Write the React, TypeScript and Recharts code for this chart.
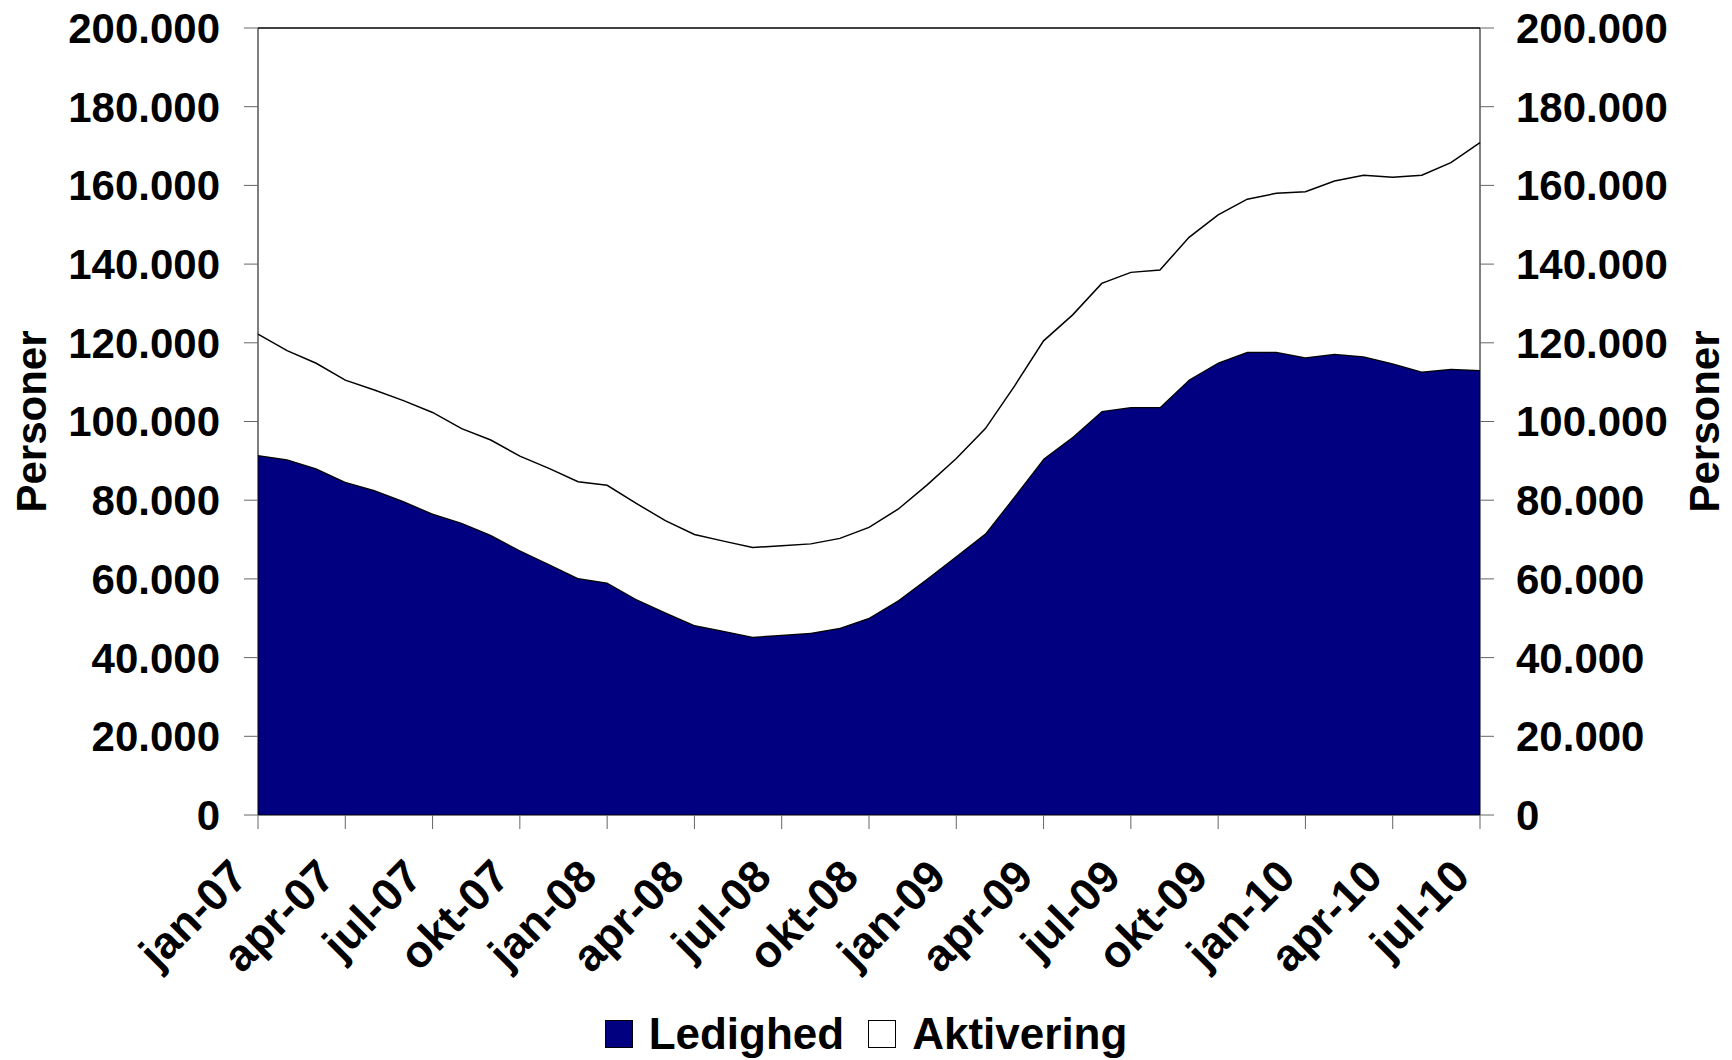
import {
  AreaChart,
  Area,
  Line,
  XAxis,
  YAxis,
  Legend,
  ReferenceLine
} from "recharts";

// months jan-07 .. jul-10
const months = [
  "jan-07", "feb-07", "mar-07", "apr-07", "maj-07", "jun-07", "jul-07", "aug-07", "sep-07", "okt-07", "nov-07", "dec-07",
  "jan-08", "feb-08", "mar-08", "apr-08", "maj-08", "jun-08", "jul-08", "aug-08", "sep-08", "okt-08", "nov-08", "dec-08",
  "jan-09", "feb-09", "mar-09", "apr-09", "maj-09", "jun-09", "jul-09", "aug-09", "sep-09", "okt-09", "nov-09", "dec-09",
  "jan-10", "feb-10", "mar-10", "apr-10", "maj-10", "jun-10", "jul-10"
];

const ledighed = [
  91500, 90400, 88100, 84700, 82600, 79800, 76600, 74300, 71200, 67300, 63800, 60200,
  59100, 54900, 51500, 48300, 46800, 45300, 45800, 46300, 47600, 50100, 54600, 60100,
  65800, 71600, 81000, 90600, 96100, 102700, 103700, 103700, 110700, 115000, 117700, 117700,
  116300, 117200, 116600, 114800, 112700, 113400, 113100
];

const aktivering = [
  30700, 27600, 26700, 25800, 25400, 25500, 25700, 23900, 24100, 23900, 24300, 24500,
  24700, 24300, 23300, 23000, 22800, 22700, 22600, 22600, 22700, 23000, 23100, 23800,
  24800, 26600, 28000, 29900, 31000, 32400, 34200, 34800, 36100, 37500, 38800, 40300,
  42100, 43900, 46000, 47300, 49900, 52400, 57800
];

const yTicks = [0, 20000, 40000, 60000, 80000, 100000, 120000, 140000, 160000, 180000, 200000];

const data = months.map((m, i) => ({
  month: m,
  Ledighed: ledighed[i],
  Aktivering: aktivering[i]
}));

const FONT = "'Liberation Sans', Arial, sans-serif";

const fmt = (v: number) => String(v).replace(/\B(?=(\d{3})+(?!\d))/g, ".");

function MonthTick({ x, y, payload }: any) {
  return (
    <g transform={`translate(${x - 8},${y + 48})`}>
      <text
        textAnchor="end"
        transform="rotate(-45)"
        fontSize={45}
        fontWeight="bold"
        fontFamily={FONT}
        fill="#000"
      >
        {payload.value}
      </text>
    </g>
  );
}

const axisTitle = (side: "left" | "right") => (props: any) => {
  const vb = props.viewBox;
  const cx = side === "left" ? vb.x + 31 : vb.x + vb.width - 28;
  const cy = vb.y + vb.height / 2;
  return (
    <text
      x={cx}
      y={cy}
      transform={`rotate(-90 ${cx} ${cy})`}
      textAnchor="middle"
      dominantBaseline="central"
      fontSize={42}
      fontWeight="bold"
      fontFamily={FONT}
      fill="#000"
    >
      Personer
    </text>
  );
};

function LegendBox() {
  const item = (color: string, label: string, last?: boolean) => (
    <div style={{ display: "flex", alignItems: "center", marginRight: last ? 0 : 24 }}>
      <div
        style={{
          width: 26,
          height: 26,
          background: color,
          border: "1.5px solid #000",
          marginRight: 16
        }}
      />
      <span>{label}</span>
    </div>
  );
  return (
    <div
      style={{
        display: "flex",
        justifyContent: "center",
        alignItems: "flex-end",
        boxSizing: "border-box",
        height: 52,
        paddingBottom: 4,
        lineHeight: "44px",
        fontFamily: FONT,
        fontWeight: "bold",
        fontSize: 44
      }}
    >
      {item("#000080", "Ledighed")}
      {item("#ffffff", "Aktivering", true)}
    </div>
  );
}

export default function App() {
  const tickStyle = {
    fontSize: 42,
    fontWeight: "bold" as const,
    fontFamily: FONT,
    fill: "#000"
  };

  return (
    <div style={{ position: "absolute", left: 0, top: 0, width: 1732, height: 1060, background: "#fff" }}>
      <AreaChart
        width={1732}
        height={1060}
        data={data}
        margin={{ top: 28, right: 0, bottom: 0, left: 0 }}
      >
        <XAxis
          dataKey="month"
          interval={2}
          height={193}
          tickSize={14}
          tickMargin={2}
          stroke="#000"
          tickLine={{ stroke: "#666" }}
          tick={<MonthTick />}
        />
        <YAxis
          yAxisId="left"
          domain={[0, 200000]}
          ticks={yTicks}
          width={258}
          tickSize={14}
          tickMargin={24}
          stroke="#000"
          tickLine={{ stroke: "#666" }}
          tick={tickStyle}
          tickFormatter={fmt}
          label={{ content: axisTitle("left") }}
        />
        <YAxis
          yAxisId="right"
          orientation="right"
          domain={[0, 200000]}
          ticks={yTicks}
          width={252}
          tickSize={14}
          tickMargin={22}
          stroke="#000"
          tickLine={{ stroke: "#666" }}
          tick={tickStyle}
          tickFormatter={fmt}
          label={{ content: axisTitle("right") }}
        />
        <ReferenceLine yAxisId="left" y={200000} stroke="#000" strokeWidth={1.5} />
        <Area
          yAxisId="left"
          type="linear"
          dataKey="Ledighed"
          stackId="a"
          fill="#000080"
          fillOpacity={1}
          stroke="#000"
          strokeWidth={2.5}
          isAnimationActive={false}
        />
        <Area
          yAxisId="left"
          type="linear"
          dataKey="Aktivering"
          stackId="a"
          fill="#ffffff"
          fillOpacity={1}
          stroke="#000"
          strokeWidth={1.5}
          isAnimationActive={false}
        />
        {/* invisible series so the right-hand axis is drawn */}
        <Line
          yAxisId="right"
          dataKey="Ledighed"
          stroke="none"
          dot={false}
          activeDot={false}
          legendType="none"
          isAnimationActive={false}
        />
        <Legend verticalAlign="bottom" content={<LegendBox />} />
      </AreaChart>
    </div>
  );
}
